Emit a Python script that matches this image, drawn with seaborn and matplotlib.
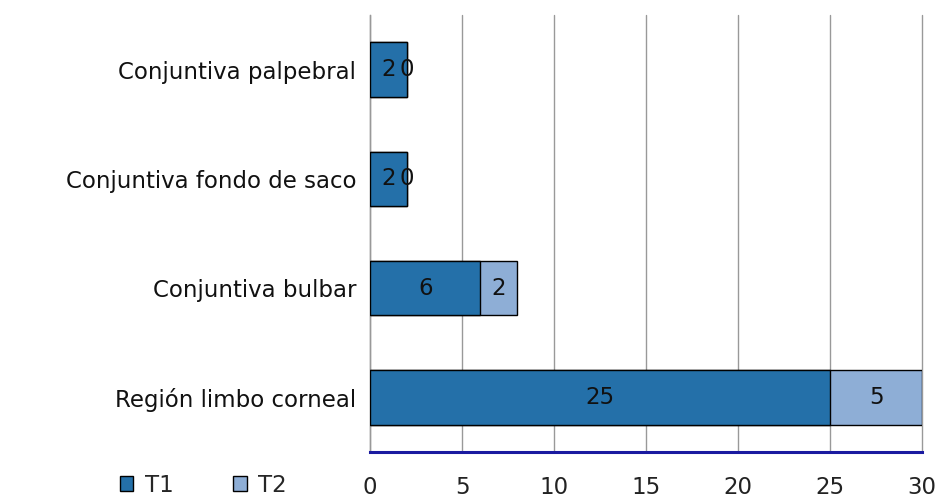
import matplotlib
matplotlib.use("Agg")
import matplotlib.pyplot as plt
import seaborn as sns
import pandas as pd
from matplotlib.patches import Patch
from matplotlib.ticker import MultipleLocator, FixedLocator

categories = ["Conjuntiva palpebral", "Conjuntiva fondo de saco",
              "Conjuntiva bulbar", "Región limbo corneal"]
t1 = [2, 2, 6, 25]
t2 = [0, 0, 2, 5]
series = ["T1", "T2"]

c_t1 = "#2470a9"
c_t2 = "#8eaed6"
fs = 16.5

sns.set_style("white")
plt.rcParams["font.family"] = ["DejaVu Sans"]

df = pd.DataFrame({"cat": categories, "T1": t1, "T2": t2})
df["total"] = df["T1"] + df["T2"]

fig = plt.figure(figsize=(9.37, 5.0), dpi=100)
ax = fig.add_axes([0.395, 0.096, 0.589, 0.874])

# stacked: draw the total in T2 colour, then T1 on top
sns.barplot(data=df, y="cat", x="total", orient="h", color=c_t2,
            saturation=1, edgecolor="black", linewidth=1.0, width=0.5,
            ax=ax, zorder=3)
sns.barplot(data=df, y="cat", x="T1", orient="h", color=c_t1,
            saturation=1, edgecolor="black", linewidth=1.0, width=0.5,
            ax=ax, zorder=4)

# value labels centred in each segment
for i, (a, b) in enumerate(zip(t1, t2)):
    ax.text(a / 2, i, f"{a}", ha="center", va="center", fontsize=fs,
            color="#111111", zorder=6)
    ax.text(a + b / 2, i, f"{b}", ha="center", va="center", fontsize=fs,
            color="#111111", zorder=6)

ax.set_xlim(0, 30)
ax.set_ylim(3.5, -0.5)
ax.xaxis.set_major_locator(MultipleLocator(5))
ax.grid(axis="x", color="#999999", linewidth=1.0, zorder=0)
for gl in ax.get_xgridlines():
    gl.set_clip_on(False)
ax.set_axisbelow(True)
ax.set_xlabel("")
ax.set_ylabel("")

for s in ["top", "right"]:
    ax.spines[s].set_visible(False)
ax.spines["left"].set_color("#999999")
ax.spines["left"].set_linewidth(1.0)
ax.spines["bottom"].set_color("#1a1aa0")
ax.spines["bottom"].set_linewidth(2.2)

ax.tick_params(axis="x", which="major", length=5, width=2, color="#1a1aa0",
               labelsize=fs, labelcolor="#222222", pad=12, direction="out")
ax.tick_params(axis="y", which="major", length=0, labelsize=fs,
               labelcolor="#111111", pad=10)
ax.yaxis.set_minor_locator(FixedLocator([-0.5, 0.5, 1.5, 2.5, 3.5]))
ax.tick_params(axis="y", which="minor", length=6, width=1, color="#999999")

handles = [Patch(facecolor=c_t1, edgecolor="black", label=series[0]),
           Patch(facecolor=c_t2, edgecolor="black", label=series[1])]
fig.legend(handles=handles, loc="center", bbox_to_anchor=(0.217, 0.03),
           ncol=2, frameon=False, fontsize=fs, handlelength=0.6,
           handleheight=0.6, columnspacing=2.6, handletextpad=0.5)

fig.savefig("out.png", dpi=100)
